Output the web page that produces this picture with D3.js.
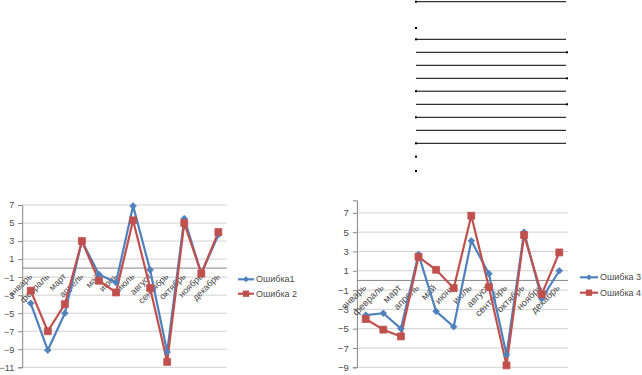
<!DOCTYPE html>
<html><head><meta charset="utf-8">
<script src="https://cdn.jsdelivr.net/npm/d3@7/dist/d3.min.js"></script>
<style>body{margin:0;background:#fff}svg{display:block}text{font-family:"Liberation Sans",Arial,sans-serif}</style>
</head><body>
<script>
const months = ["январь","февраль","март","апрель","май","июнь","июль","август","сентябрь","октябрь","ноябрь","декабрь"];
const err1 = [-3.9,-9.1,-5.0,3.0,-0.7,-1.6,6.9,-0.2,-9.3,5.5,-0.6,3.7];
const err2 = [-2.5,-7.0,-4.0,3.0,-1.4,-2.7,5.3,-2.2,-10.4,5.0,-0.6,4.0];
const err3 = [-3.6,-3.4,-5.0,2.7,-3.2,-4.8,4.1,0.7,-7.7,5.0,-1.9,1.0];
const err4 = [-4.0,-5.1,-5.8,2.45,1.1,-0.8,6.7,-0.7,-8.8,4.7,-1.45,2.9];
const ticks1 = [-11,-9,-7,-5,-3,-1,1,3,5,7];
const ticks2 = [-9,-7,-5,-3,-1,1,3,5,7];
const names1 = ["Ошибка1","Ошибка 2"];
const names2 = ["Ошибка 3","Ошибка 4"];

const W = 642, H = 375;
const svg = d3.select("body").append("svg").attr("width", W).attr("height", H);
const BLUE = "#4F81BD", RED = "#C0504D";

// decorative ruled lines at top right
const rule = svg.append("g");
const ruleY = [1.7, 39.3, 52.3, 65.3, 78.3, 91.2, 104.3, 117.3, 130.3, 143.3];
rule.selectAll("line").data(ruleY).join("line")
  .attr("x1", 416).attr("x2", 566).attr("y1", d => d).attr("y2", d => d)
  .attr("stroke", "#000").attr("stroke-width", 1);
const dots = [[416,1.7],[416,28],[416,39.3],[567,52.3],[567,78.3],[416,91.2],[567,104.3],[416,117.3],[416,143.3],[416,156.7],[416,171]];
rule.selectAll("rect").data(dots).join("rect")
  .attr("x", d => d[0]-1).attr("y", d => d[1]-1).attr("width", 2).attr("height", 2).attr("fill", "#000");

function drawChart(cfg) {
  const g = svg.append("g");
  const x = d3.scalePoint().domain(months).range([cfg.x0, cfg.x1]).padding(0.5);
  const y = d3.scaleLinear().domain(cfg.yDomain).range([cfg.yBottom, cfg.yTop]);
  const fs = cfg.fs;
  g.selectAll("line.grid").data(cfg.ticks).join("line")
    .attr("x1", cfg.x0).attr("x2", cfg.x1)
    .attr("y1", d => y(d)).attr("y2", d => y(d))
    .attr("stroke", "#d0d0d0").attr("stroke-width", 1);
  const yAxis = d3.axisLeft(y).tickValues(cfg.ticks).tickSize(4).tickPadding(4).tickFormat(d3.format("d"));
  const ya = g.append("g").attr("transform", `translate(${cfg.x0},0)`).call(yAxis);
  ya.select(".domain").attr("stroke", "#868686");
  ya.selectAll(".tick line").attr("stroke", "#868686");
  ya.selectAll("text").attr("fill", "#4a4a4a").style("font-size", fs + "px").style("font-family", '"Liberation Sans",Arial,sans-serif');
  const y0 = y(0);
  g.append("line").attr("x1", cfg.x0).attr("x2", cfg.x1).attr("y1", y0).attr("y2", y0)
    .attr("stroke", "#868686").attr("stroke-width", 1);
  g.selectAll("text.xl").data(months).join("text").attr("class", "xl")
    .attr("transform", d => `translate(${x(d) + cfg.lx},${y0 + cfg.ly}) rotate(-45)`)
    .attr("text-anchor", "end").attr("fill", "#4a4a4a").style("font-size", fs + "px")
    .text(d => d);
  const line = d3.line().x((d, i) => x(months[i])).y(d => y(d));
  const series = [{v: cfg.a, c: BLUE, m: "diamond"}, {v: cfg.b, c: RED, m: "square"}];
  series.forEach(s => {
    g.append("path").datum(s.v).attr("d", line).attr("fill", "none").attr("stroke", s.c).attr("stroke-width", 2.2).attr("stroke-linejoin", "round");
  });
  series.forEach(s => {
    const sym = s.m === "diamond" ? d3.symbol(d3.symbolDiamond2, 28) : d3.symbol(d3.symbolSquare, 48);
    g.selectAll(null).data(s.v).join("path")
      .attr("d", sym)
      .attr("transform", (d, i) => `translate(${x(months[i])},${y(d)})`)
      .attr("fill", s.c).attr("stroke", s.c).attr("stroke-width", 0.8);
  });
  series.forEach((s, i) => {
    const ly = cfg.legY[i];
    g.append("line").attr("x1", cfg.legX).attr("x2", cfg.legX + cfg.legW).attr("y1", ly).attr("y2", ly)
      .attr("stroke", s.c).attr("stroke-width", 2.2);
    const sym = s.m === "diamond" ? d3.symbol(d3.symbolDiamond2, 22) : d3.symbol(d3.symbolSquare, 40);
    g.append("path").attr("d", sym).attr("transform", `translate(${cfg.legX + cfg.legW / 2},${ly})`).attr("fill", s.c);
    g.append("text").attr("x", cfg.legX + cfg.legW + 2).attr("y", ly).attr("dy", "0.35em")
      .attr("fill", "#4a4a4a").style("font-size", cfg.lfs + "px").text(cfg.names[i]);
  });
}

drawChart({x0: 22.2, x1: 226.9, yDomain: [-11, 7], yBottom: 367.3, yTop: 205, ticks: ticks1,
  a: err1, b: err2, names: names1, fs: 9, lfs: 9, lx: 2, ly: 9, legX: 238, legW: 16, legY: [279.3, 293.7]});
drawChart({x0: 356.9, x1: 568.1, yDomain: [-9, 8.3], yBottom: 367.3, yTop: 200.3, ticks: ticks2,
  a: err3, b: err4, names: names2, fs: 9.5, lfs: 9, lx: 1, ly: 8, legX: 580, legW: 18, legY: [277.3, 292.7]});
</script>
</body></html>
